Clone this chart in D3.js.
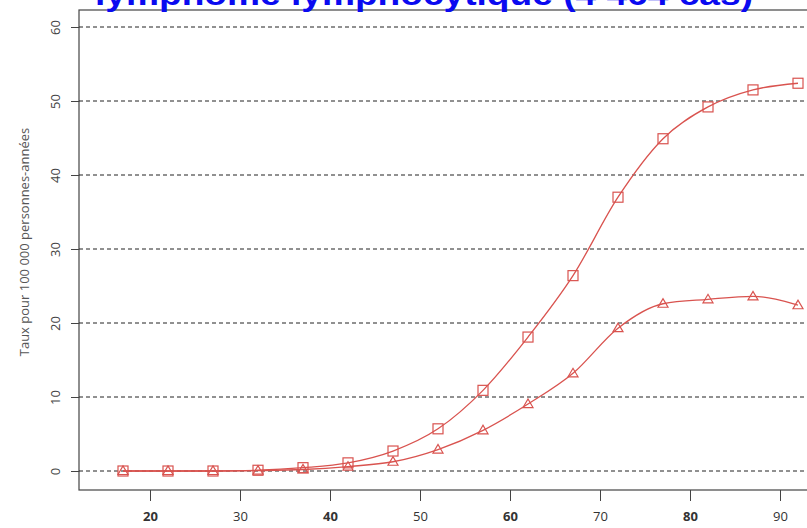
<!DOCTYPE html>
<html><head><meta charset="utf-8">
<script src="https://cdn.jsdelivr.net/npm/d3@7"></script>
<style>body{margin:0;background:#fff;}svg{display:block;}</style>
</head><body>
<svg id="c" width="807" height="528"></svg>
<script>
const ages = [17,22,27,32,37,42,47,52,57,62,67,72,77,82,87,92];
const squares = [0,0,0,0.1,0.45,1.1,2.7,5.7,10.9,18.1,26.4,37.0,44.9,49.2,51.5,52.4];
const triangles = [0,0,0,0.05,0.2,0.6,1.25,2.9,5.5,9.05,13.2,19.3,22.6,23.2,23.6,22.4];
const xTicks = [20,30,40,50,60,70,80,90];
const yTicks = [0,10,20,30,40,50,60];
const title = "lymphome lymphocytique (4 464 cas)";
const yTitle = "Taux pour 100 000 personnes-années";

const svg = d3.select("#c");
const x = d3.scaleLinear().domain([20,90]).range([150,780]);
const y = d3.scaleLinear().domain([0,60]).range([471,27]);
const red = "#d9534f";

// box
svg.append("rect").attr("x",79).attr("y",10).attr("width",760).attr("height",480)
  .attr("fill","none").attr("stroke","#444").attr("stroke-width",1.2);

// gridlines
svg.append("g").selectAll("line").data(yTicks).join("line")
  .attr("x1",79).attr("x2",807).attr("y1",d=>y(d)).attr("y2",d=>y(d))
  .attr("stroke","#222").attr("stroke-width",1).attr("stroke-dasharray","4,3");

// y axis
const ya = svg.append("g").attr("transform","translate(79,0)")
  .call(d3.axisLeft(y).tickValues(yTicks).tickSize(8));
ya.select(".domain").remove();
ya.selectAll(".tick line").attr("stroke","#444");
ya.selectAll(".tick text")
  .attr("x",-24).attr("y",0).attr("dy","0.35em").attr("text-anchor","middle")
  .attr("transform","rotate(-90,-24,0)")
  .attr("font-family","Open Sans").attr("font-size",13).attr("fill","#444");

// x axis
const xa = svg.append("g").attr("transform","translate(0,490)")
  .call(d3.axisBottom(x).tickValues(xTicks).tickSize(11).tickPadding(11));
xa.select(".domain").remove();
xa.selectAll(".tick line").attr("stroke","#444");
xa.selectAll(".tick text").attr("font-family","Open Sans").attr("font-size",13)
  .attr("fill","#333").attr("font-weight",d=>d%20===0?700:400);

// y title
svg.append("text").attr("transform","translate(29,242) rotate(-90)")
  .attr("text-anchor","middle").attr("font-family","Open Sans").attr("font-size",13)
  .attr("fill","#555").text(yTitle);

// lines
const line = (vals)=>d3.line().x((d,i)=>x(ages[i])).y(d=>y(d)).curve(d3.curveMonotoneX)(vals);
svg.append("path").attr("d",line(squares)).attr("fill","none").attr("stroke",red).attr("stroke-width",1.3);
svg.append("path").attr("d",line(triangles)).attr("fill","none").attr("stroke",red).attr("stroke-width",1.3);

// markers
svg.append("g").selectAll("rect").data(squares).join("rect")
  .attr("x",(d,i)=>x(ages[i])-5).attr("y",d=>y(d)-5).attr("width",10).attr("height",10)
  .attr("fill","none").attr("stroke",red).attr("stroke-width",1.2);
svg.append("g").selectAll("path").data(triangles).join("path")
  .attr("d",(d,i)=>{const cx=x(ages[i]), cy=y(d); return `M${cx-5},${cy+3.5}L${cx+5},${cy+3.5}L${cx},${cy-5}Z`;})
  .attr("fill","none").attr("stroke",red).attr("stroke-width",1.2);

// title
svg.append("text").attr("x",95).attr("y",5).attr("font-family","Liberation Sans")
  .attr("font-weight",700).attr("font-size",32).attr("fill","#0a0af0")
  .attr("textLength",658).attr("lengthAdjust","spacingAndGlyphs").text(title);
</script>
</body></html>
